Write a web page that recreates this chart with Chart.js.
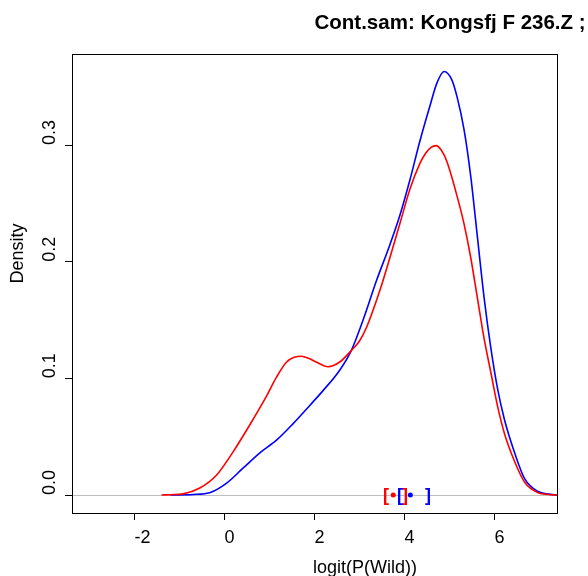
<!DOCTYPE html>
<html>
<head>
<meta charset="utf-8">
<script src="https://cdn.jsdelivr.net/npm/chart.js@4/dist/chart.umd.min.js"></script>
<style>
  html, body { margin: 0; padding: 0; background: #fff; }
  #wrap { width: 588px; height: 576px; }
</style>
</head>
<body>
<div id="wrap"><canvas id="dens"></canvas></div>
<script>
// axis setup
const xTicks = [-2, 0, 2, 4, 6];
const yTicks = [0, 0.1, 0.2, 0.3];

// density curve, red sample
const redX = [-1.40, -1.20, -0.92, -0.55, -0.18, 0.19, 0.56, 0.93, 1.155, 1.38, 1.55, 1.71, 1.88, 2.04, 2.30, 2.56, 2.82, 3.00, 3.16, 3.45, 3.68, 3.90, 4.12, 4.34, 4.47, 4.59, 4.70, 4.82, 4.94, 5.17, 5.32, 5.47, 5.62, 5.77, 5.92, 6.07, 6.22, 6.45, 6.67, 6.97, 7.20, 7.39];
const redY = [0.000, 0.0003, 0.001, 0.006, 0.017, 0.037, 0.060, 0.0845, 0.101, 0.114, 0.118, 0.119, 0.117, 0.114, 0.110, 0.114, 0.124, 0.132, 0.144, 0.175, 0.204, 0.233, 0.262, 0.284, 0.293, 0.298, 0.2995, 0.2955, 0.286, 0.256, 0.233, 0.204, 0.169, 0.134, 0.105, 0.076, 0.053, 0.0285, 0.011, 0.002, 0.0005, 0.000];

// density curve, blue sample
const blueX = [-1.20, -0.70, -0.33, 0.04, 0.41, 0.78, 1.155, 1.52, 1.90, 2.19, 2.56, 2.82, 3.08, 3.38, 3.68, 3.90, 4.12, 4.34, 4.57, 4.72, 4.88, 5.05, 5.17, 5.32, 5.47, 5.62, 5.77, 5.92, 6.07, 6.22, 6.45, 6.67, 6.97, 7.20, 7.39];
const blueY = [0.000, 0.0005, 0.002, 0.010, 0.023, 0.036, 0.047, 0.061, 0.077, 0.0895, 0.107, 0.124, 0.150, 0.184, 0.215, 0.240, 0.270, 0.303, 0.334, 0.353, 0.363, 0.356, 0.341, 0.314, 0.274, 0.2215, 0.169, 0.126, 0.091, 0.065, 0.036, 0.014, 0.003, 0.0008, 0.000];

// interval marks on the baseline: [low, centre, high]
const redInterval = [3.59, 3.75, 4.01];
const blueInterval = [3.90, 4.13, 4.52];

const titleText = 'Cont.sam: Kongsfj F 236.Z ;';
const xLabel = 'logit(P(Wild))';
const yLabel = 'Density';

const toPts = (xs, ys) => xs.map((x, i) => ({ x: x, y: ys[i] }));
const FONT = '"Liberation Sans", Arial, Helvetica, sans-serif';

// frame, zero line, labels and interval brackets
const decor = {
    id: 'decor',
    beforeDatasetsDraw(chart) {
        const { ctx, chartArea: a, scales: { y } } = chart;
        const y0 = Math.round(y.getPixelForValue(0)) + 0.5;
        ctx.save();
        ctx.strokeStyle = '#bebebe';
        ctx.lineWidth = 1;
        ctx.beginPath();
        ctx.moveTo(a.left, y0);
        ctx.lineTo(a.right, y0);
        ctx.stroke();
        ctx.restore();
    },
    afterDraw(chart) {
        const { ctx, chartArea: a, scales: { x, y } } = chart;
        ctx.save();
        // box
        ctx.strokeStyle = '#000';
        ctx.lineWidth = 1;
        ctx.strokeRect(Math.round(a.left) + 0.5, Math.round(a.top) + 0.5,
                       Math.round(a.right - a.left), Math.round(a.bottom - a.top));

        ctx.fillStyle = '#000';
        ctx.textAlign = 'left';
        ctx.textBaseline = 'alphabetic';
        ctx.font = '18px ' + FONT;
        xTicks.forEach(v => ctx.fillText(String(v), x.getPixelForValue(v), 542.5));
        ctx.fillText(xLabel, (a.left + a.right) / 2 - 1.5, 572.5);

        yTicks.forEach(v => {
            ctx.save();
            ctx.translate(54.5, y.getPixelForValue(v));
            ctx.rotate(-Math.PI / 2);
            ctx.fillText(v.toFixed(1), 0, 0);
            ctx.restore();
        });
        ctx.save();
        ctx.translate(23, (a.top + a.bottom) / 2);
        ctx.rotate(-Math.PI / 2);
        ctx.fillText(yLabel, 0, 0);
        ctx.restore();

        ctx.font = 'bold 20.5px ' + FONT;
        ctx.fillText(titleText, (a.left + a.right) / 2, 29);

        // brackets
        ctx.font = 'bold 18px ' + FONT;
        ctx.textAlign = 'center';
        ctx.textBaseline = 'middle';
        const yb = y.getPixelForValue(0) + 1;
        [[redInterval, '#ff0000'], [blueInterval, '#0000ff']].forEach(([iv, col]) => {
            ctx.fillStyle = col;
            ctx.fillText('[', x.getPixelForValue(iv[0]), yb);
            ctx.fillText(']', x.getPixelForValue(iv[2]), yb);
        });
        ctx.restore();
    }
};

new Chart(document.getElementById('dens'), {
    type: 'line',
    data: {
        datasets: [
            { data: toPts(redX, redY), borderColor: '#ff0000', borderWidth: 1.6, pointRadius: 0, cubicInterpolationMode: 'monotone', fill: false },
            { data: toPts(blueX, blueY), borderColor: '#0000ff', borderWidth: 1.6, pointRadius: 0, cubicInterpolationMode: 'monotone', fill: false },
            { data: [{ x: redInterval[1], y: 0 }], showLine: false, pointRadius: 2.5, pointBackgroundColor: '#ff0000', pointBorderWidth: 0 },
            { data: [{ x: blueInterval[1], y: 0 }], showLine: false, pointRadius: 2.5, pointBackgroundColor: '#0000ff', pointBorderWidth: 0 }
        ]
    },
    options: {
        responsive: true,
        maintainAspectRatio: false,
        animation: false,
        layout: { padding: { top: 54, right: 31, left: 0, bottom: 0 } },
        plugins: { legend: { display: false }, tooltip: { enabled: false }, title: { display: false } },
        scales: {
            x: {
                type: 'linear', min: -3.39, max: 7.39,
                afterBuildTicks: s => { s.ticks = xTicks.map(v => ({ value: v })); },
                afterFit: s => { s.height = 63; },
                ticks: { display: false },
                border: { display: false },
                grid: { drawOnChartArea: false, drawTicks: true, tickLength: 7, color: '#000', lineWidth: 1 }
            },
            y: {
                type: 'linear', min: -0.0154, max: 0.378,
                afterBuildTicks: s => { s.ticks = yTicks.map(v => ({ value: v })); },
                afterFit: s => { s.width = 72; },
                ticks: { display: false },
                border: { display: false },
                grid: { drawOnChartArea: false, drawTicks: true, tickLength: 7, color: '#000', lineWidth: 1 }
            }
        }
    },
    plugins: [decor]
});
</script>
</body>
</html>
